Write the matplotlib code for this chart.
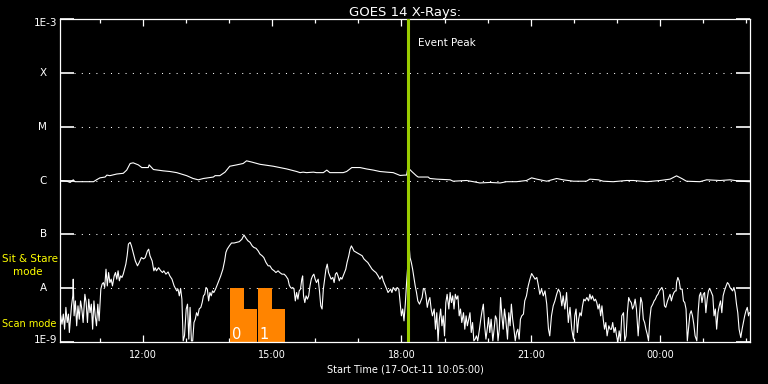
import numpy as np
import matplotlib
matplotlib.use('Agg')
from matplotlib import pyplot as plt

# time in hours from 00:00 17-Oct-11 (values above 24 are the next day)
long_t = [10.08, 10.24, 10.32, 10.39, 10.43, 10.86, 10.93, 11.01, 11.13, 11.17,
          11.24, 11.40, 11.55, 11.63, 11.71, 11.78, 11.90, 11.98, 12.13, 12.15,
          12.25, 12.48, 12.63, 12.79, 13.02, 13.17, 13.29, 13.41, 13.64, 13.68,
          13.79, 13.91, 14.02, 14.18, 14.33, 14.41, 14.53, 14.72, 15.03, 15.34,
          15.57, 15.65, 15.72, 15.80, 15.96, 16.03, 16.19, 16.27, 16.34, 16.57,
          16.65, 16.73, 16.85, 17.04, 17.19, 17.35, 17.50, 17.66, 17.81, 17.97,
          18.08, 18.12, 18.15, 18.24, 18.35, 18.39, 18.62, 18.66, 18.82, 19.13,
          19.20, 19.51, 19.67, 19.82, 20.05, 20.29, 20.44, 20.67, 20.90, 21.02,
          21.14, 21.37, 21.60, 21.75, 21.99, 22.29, 22.37, 22.57, 22.68, 22.91,
          23.22, 23.38, 23.69, 24.00, 24.23, 24.38, 24.50, 24.61, 24.92, 25.08,
          25.39, 25.62, 25.85, 26.07]
long_flux = [1.0e-6, 0.97e-6, 0.92e-6, 1.03e-6, 0.95e-6, 0.95e-6, 1.03e-6, 1.12e-6, 1.16e-6, 1.26e-6,
             1.23e-6, 1.32e-6, 1.36e-6, 1.56e-6, 2.07e-6, 2.13e-6, 1.95e-6, 1.74e-6, 1.74e-6, 1.95e-6,
             1.60e-6, 1.51e-6, 1.47e-6, 1.40e-6, 1.23e-6, 1.09e-6, 1.03e-6, 1.09e-6, 1.16e-6, 1.23e-6,
             1.23e-6, 1.43e-6, 1.84e-6, 1.95e-6, 2.07e-6, 2.32e-6, 2.20e-6, 2.00e-6, 1.84e-6, 1.64e-6,
             1.47e-6, 1.40e-6, 1.43e-6, 1.40e-6, 1.43e-6, 1.40e-6, 1.40e-6, 1.56e-6, 1.40e-6, 1.40e-6,
             1.40e-6, 1.47e-6, 1.74e-6, 1.74e-6, 1.64e-6, 1.56e-6, 1.47e-6, 1.43e-6, 1.40e-6, 1.24e-6,
             1.26e-6, 1.26e-6, 1.74e-6, 1.47e-6, 1.22e-6, 1.16e-6, 1.16e-6, 1.09e-6, 1.06e-6, 1.03e-6,
             0.97e-6, 1.0e-6, 0.95e-6, 0.90e-6, 0.92e-6, 0.90e-6, 0.95e-6, 0.95e-6, 1.0e-6, 1.12e-6,
             1.06e-6, 0.97e-6, 1.09e-6, 1.03e-6, 0.97e-6, 0.97e-6, 1.06e-6, 1.03e-6, 0.97e-6, 0.95e-6,
             1.0e-6, 1.0e-6, 0.95e-6, 1.0e-6, 1.06e-6, 1.22e-6, 1.09e-6, 0.97e-6, 0.95e-6, 1.03e-6,
             1.0e-6, 1.03e-6, 0.97e-6, 0.95e-6]

short_t = [10.10, 10.13, 10.16, 10.19, 10.22, 10.25, 10.28, 10.30, 10.35, 10.38,
           10.39, 10.41, 10.44, 10.47, 10.50, 10.53, 10.56, 10.59, 10.62, 10.66,
           10.69, 10.72, 10.75, 10.78, 10.81, 10.84, 10.87, 10.90, 10.93, 10.96,
           10.99, 11.03, 11.06, 11.09, 11.12, 11.15, 11.18, 11.21, 11.24, 11.27,
           11.30, 11.34, 11.37, 11.40, 11.43, 11.46, 11.49, 11.52, 11.55, 11.58,
           11.61, 11.64, 11.67, 11.71, 11.74, 11.78, 11.83, 11.88, 11.92, 11.97,
           12.02, 12.06, 12.11, 12.14, 12.17, 12.22, 12.26, 12.29, 12.32, 12.37,
           12.42, 12.46, 12.49, 12.54, 12.59, 12.63, 12.68, 12.73, 12.77, 12.79,
           12.82, 12.85, 12.88, 12.91, 12.94, 12.97, 13.01, 13.04, 13.07, 13.10,
           13.13, 13.16, 13.19, 13.22, 13.25, 13.28, 13.31, 13.35, 13.38, 13.41,
           13.44, 13.47, 13.50, 13.53, 13.56, 13.59, 13.62, 13.65, 13.69, 13.72,
           13.75, 13.78, 13.81, 13.86, 13.90, 13.93, 13.96, 14.01, 14.06, 14.12,
           14.18, 14.24, 14.30, 14.35, 14.40, 14.44, 14.49, 14.54, 14.58, 14.63,
           14.68, 14.72, 14.77, 14.81, 14.86, 14.91, 14.95, 15.00, 15.05, 15.09,
           15.14, 15.18, 15.23, 15.28, 15.32, 15.37, 15.40, 15.43, 15.46, 15.48,
           15.51, 15.54, 15.57, 15.60, 15.63, 15.66, 15.69, 15.71, 15.73, 15.76,
           15.79, 15.82, 15.85, 15.88, 15.91, 15.94, 15.97, 16.00, 16.03, 16.07,
           16.10, 16.13, 16.16, 16.19, 16.22, 16.25, 16.28, 16.31, 16.34, 16.37,
           16.41, 16.44, 16.47, 16.50, 16.53, 16.56, 16.59, 16.62, 16.65, 16.68,
           16.71, 16.74, 16.78, 16.81, 16.84, 16.87, 16.90, 16.96, 17.02, 17.09,
           17.13, 17.18, 17.22, 17.27, 17.32, 17.36, 17.41, 17.46, 17.50, 17.55,
           17.58, 17.63, 17.66, 17.69, 17.72, 17.75, 17.78, 17.81, 17.84, 17.87,
           17.90, 17.94, 17.97, 18.00, 18.03, 18.06, 18.09, 18.12, 18.18, 18.20,
           18.23, 18.26, 18.29, 18.32, 18.35, 18.38, 18.42, 18.45, 18.48, 18.51,
           18.54, 18.57, 18.60, 18.63, 18.66, 18.69, 18.72, 18.76, 18.79, 18.82,
           18.85, 18.88, 18.91, 18.94, 18.97, 19.00, 19.03, 19.06, 19.10, 19.13,
           19.16, 19.19, 19.22, 19.25, 19.28, 19.31, 19.34, 19.37, 19.40, 19.44,
           19.47, 19.50, 19.53, 19.56, 19.59, 19.62, 19.65, 19.68, 19.71, 19.74,
           19.77, 19.81, 19.84, 19.87, 19.90, 19.93, 19.96, 19.99, 20.02, 20.05,
           20.08, 20.12, 20.15, 20.18, 20.21, 20.24, 20.27, 20.30, 20.33, 20.36,
           20.39, 20.42, 20.46, 20.49, 20.52, 20.55, 20.58, 20.61, 20.64, 20.67,
           20.70, 20.73, 20.76, 20.79, 20.83, 20.86, 20.90, 20.94, 20.98, 21.02,
           21.10, 21.14, 21.17, 21.21, 21.25, 21.29, 21.33, 21.37, 21.41, 21.44,
           21.48, 21.52, 21.56, 21.60, 21.64, 21.68, 21.72, 21.75, 21.79, 21.83,
           21.87, 21.91, 21.95, 21.99, 22.02, 22.05, 22.08, 22.11, 22.14, 22.17,
           22.20, 22.23, 22.26, 22.30, 22.34, 22.37, 22.40, 22.43, 22.47, 22.50,
           22.53, 22.56, 22.59, 22.62, 22.65, 22.68, 22.71, 22.74, 22.77, 22.81,
           22.84, 22.87, 22.90, 22.93, 22.96, 22.99, 23.02, 23.05, 23.08, 23.11,
           23.15, 23.18, 23.21, 23.24, 23.27, 23.30, 23.33, 23.36, 23.39, 23.42,
           23.45, 23.49, 23.52, 23.55, 23.58, 23.61, 23.64, 23.67, 23.70, 23.73,
           23.76, 23.79, 23.83, 23.86, 23.89, 23.92, 23.95, 23.98, 24.01, 24.04,
           24.07, 24.10, 24.13, 24.17, 24.20, 24.23, 24.26, 24.29, 24.32, 24.35,
           24.37, 24.38, 24.41, 24.44, 24.47, 24.51, 24.54, 24.57, 24.60, 24.63,
           24.66, 24.69, 24.72, 24.75, 24.78, 24.81, 24.85, 24.88, 24.91, 24.94,
           24.97, 25.00, 25.03, 25.06, 25.09, 25.12, 25.15, 25.19, 25.22, 25.25,
           25.28, 25.31, 25.34, 25.37, 25.40, 25.43, 25.46, 25.49, 25.53, 25.56,
           25.59, 25.62, 25.65, 25.68, 25.71, 25.74, 25.77, 25.80, 25.83, 25.87,
           25.90, 25.93, 25.96, 25.99, 26.02, 26.05, 26.07]
short_flux = [3.06e-9, 2.14e-9, 3.3e-9, 1.73e-9, 4.4e-9, 2.3e-9, 3.3e-9, 1.5e-9, 4.7e-9, 7.2e-9,
              1.47e-8, 3.06e-9, 5.8e-9, 2.0e-9, 4.7e-9, 2.65e-9, 5.8e-9, 4.1e-9, 2.3e-9, 7.7e-9,
              5.4e-9, 2.3e-9, 6.25e-9, 3.5e-9, 5.05e-9, 1.73e-9, 5.8e-9, 3.06e-9, 2.0e-9, 5.05e-9,
              2.47e-9, 9.6e-9, 1.19e-8, 1.27e-8, 1.03e-8, 2.25e-8, 1.10e-8, 1.95e-8, 1.27e-8, 1.47e-8,
              1.10e-8, 1.69e-8, 1.95e-8, 1.47e-8, 2.1e-8, 1.37e-8, 1.69e-8, 1.58e-8, 1.82e-8, 2.25e-8,
              2.8e-8, 4.0e-8, 6.6e-8, 7.1e-8, 6.1e-8, 4.6e-8, 3.2e-8, 2.6e-8, 3.0e-8, 3.7e-8,
              3.5e-8, 3.7e-8, 4.9e-8, 5.3e-8, 4.0e-8, 3.2e-8, 2.1e-8, 2.4e-8, 2.1e-8, 2.4e-8,
              2.1e-8, 1.95e-8, 2.1e-8, 1.82e-8, 2.0e-8, 1.69e-8, 1.47e-8, 1.10e-8, 9.6e-9, 8.9e-9,
              9.6e-9, 7.2e-9, 9.9e-9, 6.25e-9, 1.05e-9, 1.3e-9, 4.1e-9, 5.05e-9, 1.13e-9, 4.4e-9,
              1.05e-9, 1.05e-9, 2.3e-9, 2.65e-9, 3.5e-9, 3.06e-9, 4.1e-9, 4.4e-9, 5.4e-9, 7.2e-9,
              7.7e-9, 1.03e-8, 9.6e-9, 5.8e-9, 8.3e-9, 7.2e-9, 8.9e-9, 8.3e-9, 9.6e-9, 1.10e-8,
              1.27e-8, 1.47e-8, 1.69e-8, 2.25e-8, 3.2e-8, 4.6e-8, 5.3e-8, 6.1e-8, 6.9e-8, 6.9e-8,
              7.1e-8, 7.3e-8, 8.1e-8, 9.7e-8, 8.4e-8, 7.6e-8, 7.1e-8, 6.1e-8, 5.7e-8, 5.5e-8,
              4.9e-8, 4.3e-8, 4.0e-8, 3.7e-8, 3.0e-8, 2.6e-8, 2.6e-8, 2.25e-8, 2.1e-8, 1.95e-8,
              2.1e-8, 1.95e-8, 1.82e-8, 1.82e-8, 1.69e-8, 1.47e-8, 1.14e-8, 1.03e-8, 9.9e-9, 1.03e-8,
              9.6e-9, 5.8e-9, 8.3e-9, 6.25e-9, 8.9e-9, 9.6e-9, 1.47e-8, 1.69e-8, 7.2e-9, 5.4e-9,
              7.2e-9, 6.25e-9, 7.2e-9, 1.10e-8, 1.47e-8, 1.69e-8, 1.82e-8, 1.47e-8, 1.27e-8, 1.47e-8,
              8.9e-9, 4.7e-9, 4.1e-9, 9.6e-9, 1.47e-8, 2.25e-8, 2.8e-8, 1.95e-8, 1.69e-8, 1.47e-8,
              1.58e-8, 1.27e-8, 1.82e-8, 1.95e-8, 1.69e-8, 1.37e-8, 1.58e-8, 1.47e-8, 1.69e-8, 1.95e-8,
              2.25e-8, 3.0e-8, 4.0e-8, 5.3e-8, 6.1e-8, 5.5e-8, 4.9e-8, 4.6e-8, 4.3e-8, 4.0e-8,
              3.5e-8, 3.2e-8, 3.0e-8, 2.6e-8, 2.25e-8, 2.1e-8, 1.95e-8, 1.69e-8, 1.47e-8, 1.69e-8,
              1.37e-8, 1.10e-8, 9.6e-9, 8.3e-9, 8.9e-9, 9.6e-9, 8.3e-9, 1.03e-8, 9.6e-9, 8.9e-9,
              1.03e-8, 9.6e-9, 5.4e-9, 3.06e-9, 4.1e-9, 2.47e-9, 5.05e-9, 1.27e-8, 6.1e-8, 3.7e-8,
              3.0e-8, 2.25e-8, 1.58e-8, 1.10e-8, 8.3e-9, 5.8e-9, 5.05e-9, 5.8e-9, 6.7e-9, 9.9e-9,
              9.6e-9, 7.2e-9, 4.4e-9, 5.8e-9, 6.7e-9, 4.1e-9, 3.06e-9, 4.1e-9, 1.73e-9, 3.5e-9,
              1.05e-9, 2.65e-9, 4.1e-9, 2.0e-9, 3.06e-9, 1.3e-9, 5.4e-9, 7.7e-9, 4.1e-9, 8.3e-9,
              5.4e-9, 7.2e-9, 4.1e-9, 7.7e-9, 6.25e-9, 7.2e-9, 3.06e-9, 4.1e-9, 2.3e-9, 3.5e-9,
              1.73e-9, 3.06e-9, 2.0e-9, 2.65e-9, 3.5e-9, 1.5e-9, 2.3e-9, 1.05e-9, 1.13e-9, 1.3e-9,
              1.05e-9, 1.73e-9, 2.65e-9, 3.8e-9, 5.05e-9, 2.0e-9, 1.13e-9, 1.73e-9, 2.85e-9, 1.5e-9,
              2.65e-9, 1.05e-9, 1.73e-9, 3.06e-9, 2.65e-9, 1.05e-9, 1.73e-9, 6.7e-9, 3.06e-9, 1.73e-9,
              4.1e-9, 2.65e-9, 1.13e-9, 3.5e-9, 2.0e-9, 5.05e-9, 2.65e-9, 1.73e-9, 1.05e-9, 1.5e-9,
              1.73e-9, 1.13e-9, 2.65e-9, 3.06e-9, 3.3e-9, 5.8e-9, 7.2e-9, 1.10e-8, 1.47e-8, 1.87e-8,
              1.47e-8, 1.58e-8, 1.19e-8, 7.7e-9, 9.6e-9, 7.2e-9, 8.9e-9, 5.05e-9, 1.73e-9, 1.3e-9,
              3.06e-9, 4.7e-9, 5.8e-9, 7.7e-9, 9.6e-9, 8.3e-9, 4.7e-9, 7.2e-9, 4.1e-9, 8.3e-9,
              2.3e-9, 4.4e-9, 1.73e-9, 1.13e-9, 3.06e-9, 4.1e-9, 1.5e-9, 2.65e-9, 3.5e-9, 3.06e-9,
              4.7e-9, 6.25e-9, 5.8e-9, 6.7e-9, 5.8e-9, 7.7e-9, 6.25e-9, 7.2e-9, 5.8e-9, 6.25e-9,
              5.4e-9, 4.1e-9, 5.05e-9, 3.06e-9, 4.7e-9, 2.65e-9, 1.73e-9, 2.3e-9, 1.3e-9, 2.0e-9,
              1.73e-9, 1.73e-9, 2.3e-9, 1.5e-9, 1.86e-9, 1.3e-9, 1.0e-9, 1.61e-9, 1.05e-9, 3.06e-9,
              3.5e-9, 1.05e-9, 1.3e-9, 3.5e-9, 6.7e-9, 5.8e-9, 5.4e-9, 4.1e-9, 4.7e-9, 6.25e-9,
              4.1e-9, 1.3e-9, 3.06e-9, 6.7e-9, 5.4e-9, 2.65e-9, 2.3e-9, 1.73e-9, 1.4e-9, 1.05e-9,
              2.65e-9, 4.4e-9, 5.05e-9, 5.8e-9, 6.25e-9, 7.2e-9, 7.7e-9, 8.9e-9, 9.6e-9, 1.03e-8,
              8.9e-9, 4.7e-9, 4.4e-9, 5.8e-9, 6.7e-9, 7.7e-9, 5.8e-9, 7.2e-9, 8.3e-9, 8.9e-9,
              8.9e-9, 1.27e-8, 1.58e-8, 1.37e-8, 9.6e-9, 9.6e-9, 5.8e-9, 5.4e-9, 4.1e-9, 1.05e-9,
              1.86e-9, 3.3e-9, 3.8e-9, 3.06e-9, 2.14e-9, 1.3e-9, 1.05e-9, 3.5e-9, 7.2e-9, 8.3e-9,
              5.4e-9, 7.7e-9, 8.3e-9, 3.5e-9, 6.25e-9, 8.9e-9, 9.9e-9, 8.3e-9, 7.2e-9, 3.06e-9,
              4.1e-9, 1.73e-9, 3.5e-9, 4.7e-9, 5.8e-9, 3.5e-9, 7.2e-9, 8.9e-9, 1.10e-8, 1.27e-8,
              1.19e-8, 1.03e-8, 9.6e-9, 8.9e-9, 1.03e-8, 8.3e-9, 5.05e-9, 3.5e-9, 1.73e-9, 1.21e-9,
              1.73e-9, 2.3e-9, 3.06e-9, 3.8e-9, 4.4e-9, 3.06e-9, 3.5e-9]

# instrument mode blocks (orange)
mode_start = [14.025, 14.34, 14.675, 14.99]
mode_width = [0.315, 0.305, 0.315, 0.31]
mode_level = [1e-8, 4.1e-9, 1e-8, 4.1e-9]
mode_ids = ['0', '1']
mode_id_t = [14.08, 14.70]

peak_t = 18.15
t_start, t_end = 10 + 5 / 60, 26 + 5 / 60

class_levels = [1e-9, 1e-8, 1e-7, 1e-6, 1e-5, 1e-4, 1e-3]
class_labels = ['1E-9', 'A', 'B', 'C', 'M', 'X', '1E-3']
hour_ticks = [12, 15, 18, 21, 24]
hour_labels = ['12:00', '15:00', '18:00', '21:00', '00:00']

W, H = 768, 384
fig = plt.figure(figsize=(W / 100, H / 100), dpi=100, facecolor='black')
ax = fig.add_axes([60 / W, 1 - 342 / H, 690 / W, 323 / H])
ax.set_facecolor('black')
ax.set_yscale('log')
ax.set_xlim(t_start, t_end)
ax.set_ylim(1e-9, 1e-3)

for s in ax.spines.values():
    s.set_color('white')
    s.set_linewidth(0.9)

# dotted class lines
for lv in class_levels[1:-1]:
    ax.axhline(lv, xmin=14 / 690, xmax=1 - 14 / 690, color='white', lw=0.75,
               linestyle=(0, (1, 6)), zorder=1)

ax.bar(mode_start, np.array(mode_level) - 1e-9, width=mode_width, bottom=1e-9,
       align='edge', color='#ff8400', linewidth=0, zorder=2)
for lab, t in zip(mode_ids, mode_id_t):
    ax.text(t, 1.15e-9, lab, color='white', fontsize=10.5, ha='left',
            va='baseline', zorder=3)

ax.plot(long_t, long_flux, color='white', lw=0.8, zorder=4)
ax.plot(short_t, short_flux, color='white', lw=0.8, zorder=4)

ax.axvline(peak_t, color='#99cc00', lw=2.2, zorder=5)
ax.annotate('Event Peak', xy=(peak_t, 1), xycoords=('data', 'axes fraction'),
            xytext=(10, -24), textcoords='offset pixels', color='white',
            fontsize=7.5, ha='left', va='center')

# ticks
ax.set_xticks(hour_ticks)
ax.set_xticklabels(hour_labels)
ax.set_xticks(np.arange(11, 27), minor=True)
ax.tick_params(axis='x', which='major', direction='in', length=5, width=0.9,
               top=True, bottom=True, colors='white', labelsize=7, pad=6)
ax.tick_params(axis='x', which='minor', direction='in', length=3, width=0.9,
               top=True, bottom=True, colors='white')
ax.set_yticks(class_levels)
ax.yaxis.set_minor_locator(matplotlib.ticker.NullLocator())
ax.tick_params(axis='y', which='major', direction='in', length=10, width=1.2,
               left=True, right=True, colors='white', labelleft=False)

for lv, lb in zip(class_levels, class_labels):
    dx = -3 if lb.startswith('1E') else -13
    dy = 0
    if lb == '1E-3':
        dy = -4
    elif lb == '1E-9':
        dy = 2
    ax.annotate(lb, xy=(0, lv), xycoords=('axes fraction', 'data'),
                xytext=(dx, dy), textcoords='offset pixels', color='white',
                fontsize=7.5, ha='right', va='center')

ax.set_title('GOES 14 X-Rays:', color='white', fontsize=9.5, pad=2)
ax.set_xlabel('Start Time (17-Oct-11 10:05:00)', color='white', fontsize=7,
              labelpad=3)

fig.text(2 / W, 1 - 259 / H, 'Sit & Stare', color='yellow', fontsize=7.5,
         va='center', ha='left')
fig.text(13 / W, 1 - 272 / H, 'mode', color='yellow', fontsize=7.5,
         va='center', ha='left')
fig.text(2 / W, 1 - 324 / H, 'Scan mode', color='yellow', fontsize=7,
         va='center', ha='left')

fig.savefig('out.png', dpi=100, facecolor='black')
